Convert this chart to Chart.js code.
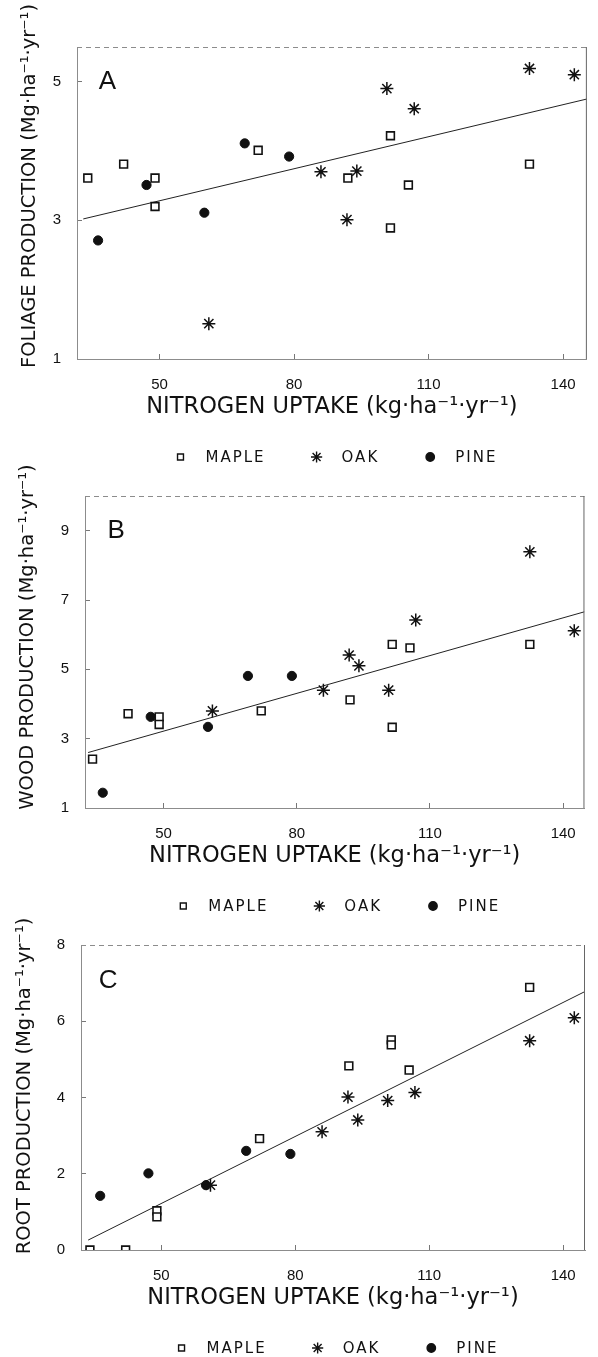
<!DOCTYPE html>
<html>
<head>
<meta charset="utf-8">
<title>Production vs nitrogen uptake</title>
<script src="https://cdn.jsdelivr.net/npm/chart.js@4.4.1/dist/chart.umd.min.js"></script>
<style>
  html, body { margin: 0; padding: 0; background: #fff; overflow: hidden; }
  .panel { position: absolute; left: 0; width: 598px; }
</style>
</head>
<body>
<div class="panel" style="top:0;height:474px"><canvas id="chart-a"></canvas></div>
<div class="panel" style="top:440px;height:483px"><canvas id="chart-b"></canvas></div>
<div class="panel" style="top:890px;height:475px"><canvas id="chart-c"></canvas></div>
<script>
// nitrogen uptake (kg/ha/yr) per stand
const mapleN = [34, 42, 49, 49, 72, 92, 101.5, 101.5, 105.5, 132.5];
const oakN = [61, 86, 91.8, 94, 100.7, 106.8, 132.5, 142.5];
const pineN = [36.3, 47.1, 60, 69, 78.9];

// foliage production (Mg/ha/yr)
const foliageMaple = [3.61, 3.81, 3.61, 3.20, 4.01, 3.61, 4.22, 2.89, 3.51, 3.81];
const foliageOak = [1.51, 3.70, 3.01, 3.71, 4.90, 4.61, 5.19, 5.10];
const foliagePine = [2.71, 3.51, 3.11, 4.11, 3.92];
const foliageFitX = [33, 145.3];
const foliageFitY = [3.02, 4.75];

// wood production
const woodMaple = [2.41, 3.72, 3.63, 3.41, 3.80, 4.12, 5.72, 3.33, 5.62, 5.72];
const woodOak = [3.80, 4.40, 5.41, 5.10, 4.40, 6.42, 8.39, 6.11];
const woodPine = [1.44, 3.63, 3.34, 4.81, 4.81];
const woodFitX = [33, 144.8];
const woodFitY = [2.60, 6.66];

// root production
const rootMaple = [0, 0, 1.03, 0.87, 2.92, 4.83, 5.51, 5.38, 4.72, 6.89];
const rootOak = [1.70, 3.10, 4.01, 3.41, 3.92, 4.13, 5.49, 6.09];
const rootPine = [1.42, 2.01, 1.70, 2.60, 2.52];
const rootFitX = [33.6, 144.9];
const rootFitY = [0.26, 6.78];

const nTicks = [50, 80, 110, 140];
const foliageTicks = [1, 3, 5];
const woodTicks = [1, 3, 5, 7, 9];
const rootTicks = [0, 2, 4, 6, 8];

const FONT = '"Liberation Sans", Arial, sans-serif';
const WIDE = '"DejaVu Sans", "Liberation Sans", sans-serif';
const INK = '#111';
const FRAME = '#8c8c8c';

function pts(xs, ys) {
  return xs.map(function (x, i) {
    return { x: x, y: ys[i] };
  });
}

// frame top/right, panel letter, rotated y title and the species key
const panelDecor = {
  id: "panelDecor",
  afterDraw(chart, args, opts) {
    const ctx = chart.ctx;
    const area = chart.chartArea;
    const sx = chart.scales.x;
    const sy = chart.scales.y;

    ctx.save();
    ctx.lineWidth = 1;
    ctx.strokeStyle = FRAME;
    ctx.setLineDash([5, 4]);
    ctx.beginPath();
    ctx.moveTo(area.left, area.top + 0.5);
    ctx.lineTo(area.right, area.top + 0.5);
    ctx.stroke();
    ctx.setLineDash([]);
    ctx.strokeStyle = "#666";
    ctx.beginPath();
    ctx.moveTo(area.right - 0.5, area.top);
    ctx.lineTo(area.right - 0.5, area.bottom);
    ctx.stroke();

    ctx.fillStyle = INK;
    ctx.textAlign = "center";
    ctx.textBaseline = "middle";
    ctx.font = "26px " + FONT;
    ctx.fillText(opts.letter, sx.getPixelForValue(opts.letterAt[0]), sy.getPixelForValue(opts.letterAt[1]));

    ctx.save();
    ctx.translate(opts.titleX, opts.titleY);
    ctx.rotate(-Math.PI / 2);
    ctx.font = "19.5px " + WIDE;
    ctx.fillText(opts.yTitle, 0, 0);
    ctx.restore();

    // key below the axis title
    const species = chart.data.datasets.filter(function (d) { return !d.showLine; });
    ctx.font = "15px " + WIDE;
    ctx.letterSpacing = "2px";
    const textGap = 25;
    const itemGap = 51;
    const widths = species.map(function (d) { return ctx.measureText(d.label).width; });
    let total = 0;
    widths.forEach(function (w, i) {
      total += textGap + w + (i < widths.length - 1 ? itemGap : 0);
    });
    let x = (area.left + area.right) / 2 + 7 - total / 2;
    const y = area.bottom + 98;
    ctx.textAlign = "left";
    species.forEach(function (d, i) {
      ctx.fillStyle = d.pointStyle === "rect" ? "#fff" : INK;
      ctx.strokeStyle = INK;
      ctx.lineWidth = 1.4;
      Chart.helpers.drawPoint(ctx, {
        pointStyle: d.pointStyle,
        radius: d.pointStyle === "star" ? 5.6 : 4.2,
        borderWidth: 1.4,
        rotation: 0
      }, x, y);
      ctx.fillStyle = INK;
      ctx.fillText(d.label, x + textGap, y + 1);
      x += textGap + widths[i] + itemGap;
    });
    ctx.restore();
  }
};

function panelConfig(p) {
  return {
    type: "scatter",
    data: {
      datasets: [
        {
          label: "MAPLE",
          data: pts(mapleN, p.maple),
          pointStyle: "rect",
          pointRadius: 5.5,
          pointBorderWidth: 1.6,
          pointBorderColor: INK,
          pointBackgroundColor: "#fff"
        },
        {
          label: "OAK",
          data: pts(oakN, p.oak),
          pointStyle: "star",
          pointRadius: 6.5,
          pointBorderWidth: 1.5,
          pointBorderColor: INK,
          pointBackgroundColor: INK
        },
        {
          label: "PINE",
          data: pts(pineN, p.pine),
          pointStyle: "circle",
          pointRadius: 4.6,
          pointBorderWidth: 1,
          pointBorderColor: INK,
          pointBackgroundColor: INK
        },
        {
          label: "fit",
          data: pts(p.fitX, p.fitY),
          showLine: true,
          pointRadius: 0,
          borderColor: "#222",
          borderWidth: 1,
          fill: false
        }
      ]
    },
    plugins: [panelDecor],
    options: {
      responsive: true,
      maintainAspectRatio: false,
      animation: false,
      layout: {
        padding: { top: p.padTop, right: p.padRight, bottom: 35, left: 0 }
      },
      plugins: {
        legend: { display: false },
        tooltip: { enabled: false },
        panelDecor: {
          letter: p.letter,
          letterAt: p.letterAt,
          yTitle: p.yTitle,
          titleX: p.titleX,
          titleY: p.titleY
        }
      },
      scales: {
        x: {
          type: "linear",
          min: p.xMin,
          max: p.xMax,
          afterBuildTicks: function (scale) {
            scale.ticks = nTicks.map(function (v) { return { value: v }; });
          },
          afterFit: function (scale) {
            scale.height = 80;
          },
          border: { display: true, color: FRAME, dash: [5, 4] },
          grid: { drawOnChartArea: false, tickLength: -5, tickColor: "#777" },
          ticks: {
            padding: 22,
            color: INK,
            autoSkip: false,
            maxRotation: 0,
            font: { family: FONT, size: 15 }
          },
          title: {
            display: true,
            text: "NITROGEN UPTAKE (kg·ha⁻¹·yr⁻¹)",
            color: INK,
            font: { family: WIDE, size: 22.5 },
            padding: { top: 0, bottom: 18 }
          }
        },
        y: {
          type: "linear",
          min: p.yMin,
          max: p.yMax,
          afterBuildTicks: function (scale) {
            scale.ticks = p.yTicks.map(function (v) { return { value: v }; });
          },
          afterFit: function (scale) {
            scale.width = p.axisWidth;
          },
          border: { display: true, color: FRAME, dash: [5, 4] },
          grid: { drawOnChartArea: false, tickLength: -5, tickColor: "#777" },
          ticks: {
            padding: 21,
            color: INK,
            font: { family: FONT, size: 15 }
          }
        }
      }
    }
  };
}

new Chart(document.getElementById("chart-a"), panelConfig({
  maple: foliageMaple, oak: foliageOak, pine: foliagePine,
  fitX: foliageFitX, fitY: foliageFitY,
  yTicks: foliageTicks, yMin: 1, yMax: 5.5,
  xMin: 31.6, xMax: 145.3,
  padTop: 47, padRight: 2, axisWidth: 77,
  letter: "A", letterAt: [38.4, 5.0],
  yTitle: "FOLIAGE PRODUCTION (Mg·ha⁻¹·yr⁻¹)", titleX: 30, titleY: 186
}));

new Chart(document.getElementById("chart-b"), panelConfig({
  maple: woodMaple, oak: woodOak, pine: woodPine,
  fitX: woodFitX, fitY: woodFitY,
  yTicks: woodTicks, yMin: 1, yMax: 10,
  xMin: 32.3, xMax: 144.8,
  padTop: 56, padRight: 0, axisWidth: 85,
  letter: "B", letterAt: [39.3, 9.0],
  yTitle: "WOOD PRODUCTION (Mg·ha⁻¹·yr⁻¹)", titleX: 28, titleY: 197
}));

new Chart(document.getElementById("chart-c"), panelConfig({
  maple: rootMaple, oak: rootOak, pine: rootPine,
  fitX: rootFitX, fitY: rootFitY,
  yTicks: rootTicks, yMin: 0, yMax: 8,
  xMin: 32.0, xMax: 144.9,
  padTop: 55, padRight: 1, axisWidth: 81,
  letter: "C", letterAt: [38.1, 7.07],
  yTitle: "ROOT PRODUCTION (Mg·ha⁻¹·yr⁻¹)", titleX: 25, titleY: 196
}));
</script>
</body>
</html>
